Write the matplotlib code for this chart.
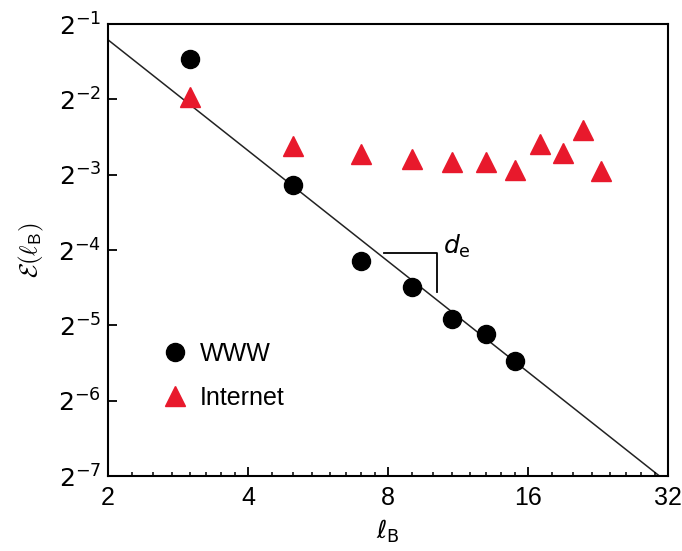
import matplotlib
matplotlib.use("Agg")
import matplotlib.pyplot as plt
from matplotlib.ticker import FixedLocator, NullFormatter
import numpy as np

# Tailles de boîte (l_B) et exposants log2 de E(l_B)
www_lb = [3, 5, 7, 9, 11, 13, 15]
www_log2 = [-1.47, -3.14, -4.14, -4.49, -4.92, -5.12, -5.47]

internet_lb = [3, 5, 7, 9, 11, 13, 15, 17, 19, 21, 23]
internet_log2 = [-1.97, -2.62, -2.72, -2.79, -2.83, -2.83, -2.94, -2.59, -2.71, -2.41, -2.95]

# Ajuste en loi de puissance : log2 E = a + b * log2 l_B
fit_a = 0.26
fit_b = -1.47

y_exponents = [-7, -6, -5, -4, -3, -2, -1]
x_major = [2, 4, 8, 16, 32]

RED = "#e8192c"

plt.rcParams["font.family"] = ["Liberation Sans Narrow", "Liberation Sans", "DejaVu Sans"]
plt.rcParams["mathtext.fontset"] = "custom"
plt.rcParams["mathtext.rm"] = "Liberation Sans Narrow"
plt.rcParams["mathtext.it"] = "Liberation Sans Narrow:italic"

fig = plt.figure(figsize=(6.82, 5.51), dpi=100, facecolor="white")
ax = fig.add_axes([0.1584, 0.1361, 0.8211, 0.8203])

ax.set_xscale("log", base=2)
ax.set_yscale("log", base=2)

# Droite d'ajustement
xs = np.array([2.0, 32.0])
ax.plot(xs, 2.0 ** (fit_a + fit_b * np.log2(xs)), color="#222222", lw=1.1, zorder=1)

ax.plot(www_lb, 2.0 ** np.array(www_log2), "o", color="black", ms=13,
        label="WWW", zorder=3)
ax.plot(internet_lb, 2.0 ** np.array(internet_log2), "^", color=RED, ms=14,
        mec=RED, label="Internet", zorder=3)

# Équerre d_e
bx0, bx1 = 7.85, 10.2
by0, by1 = 2.0 ** -4.04, 2.0 ** -4.56
ax.plot([bx0, bx1, bx1], [by0, by0, by1], color="black", lw=1.3, zorder=2)
ax.text(10.5, 2.0 ** -3.95, r"$d_{\rm e}$", fontsize=18, ha="left", va="center")

ax.set_xlim(2, 32)
ax.set_ylim(2.0 ** -7, 2.0 ** -1)

ax.xaxis.set_major_locator(FixedLocator(x_major))
ax.set_xticklabels([str(v) for v in x_major])
minor = []
for base in [2, 4, 8, 16]:
    minor += [base * (1 + k / 8) for k in range(1, 8)]
ax.xaxis.set_minor_locator(FixedLocator(minor))
ax.xaxis.set_minor_formatter(NullFormatter())

ax.yaxis.set_major_locator(FixedLocator([2.0 ** e for e in y_exponents]))
ax.set_yticklabels([rf"$2^{{{e}}}$" for e in y_exponents])
ax.yaxis.set_minor_locator(FixedLocator([]))

ax.tick_params(axis="both", which="major", direction="in", length=6.5, width=1.3,
               labelsize=18, top=False, right=False)
ax.tick_params(axis="x", which="major", pad=7)
ax.tick_params(axis="y", which="major", pad=5)
ax.tick_params(axis="x", which="minor", direction="in", length=3, width=1.1, top=False)

for sp in ax.spines.values():
    sp.set_linewidth(1.5)

ax.set_xlabel(r"$\ell_{\rm B}$", fontsize=18, labelpad=6)
ax.set_ylabel(r"$\mathcal{E}(\ell_{\mathsf{B}})$", fontsize=18, math_fontfamily="cm",
              labelpad=9)

ax.legend(loc="upper left", bbox_to_anchor=(0.097, 0.297), frameon=False,
          fontsize=18, handlelength=1.0, handletextpad=0.5, labelspacing=0.8,
          borderpad=0, borderaxespad=0)

fig.savefig("out.png", dpi=100, facecolor="white")
